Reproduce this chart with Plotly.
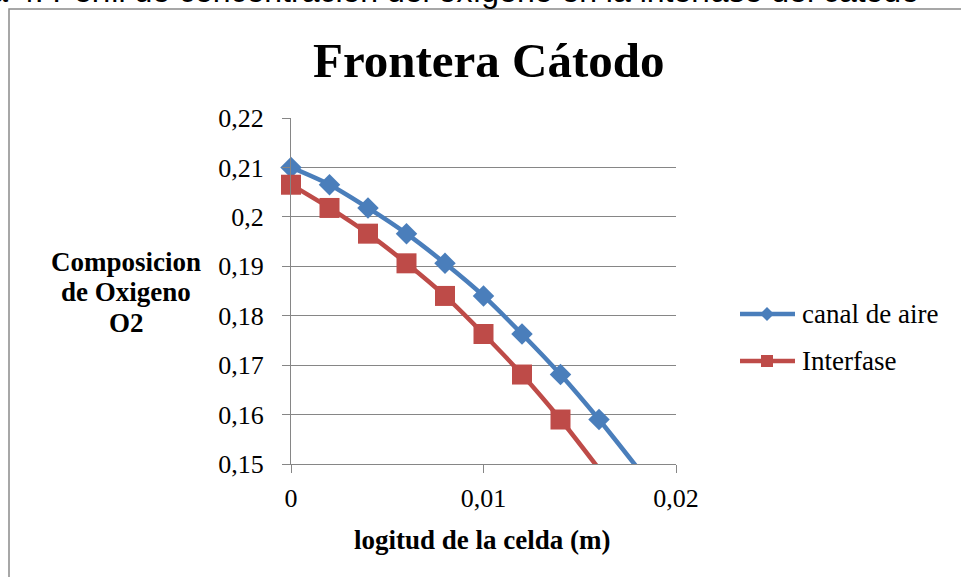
import plotly.graph_objects as go

# Cell length positions (m)
longitud = [0.000, 0.002, 0.004, 0.006, 0.008, 0.010, 0.012, 0.014, 0.016, 0.018]
# O2 mole fraction in the air channel
canal_aire = [0.2100, 0.2065, 0.2018, 0.1966, 0.1906, 0.1840, 0.1763, 0.1681, 0.1590, 0.1492]
# O2 mole fraction at the cathode interface
interfase = [0.2065, 0.2018, 0.1966, 0.1906, 0.1840, 0.1763, 0.1681, 0.1590, 0.1490]

y_ticks = [0.15, 0.16, 0.17, 0.18, 0.19, 0.20, 0.21, 0.22]
y_ticktext = ["0,15", "0,16", "0,17", "0,18", "0,19", "0,2", "0,21", "0,22"]
x_ticks = [0.0, 0.01, 0.02]
x_ticktext = ["0", "0,01", "0,02"]

Y_MIN, Y_MAX = 0.15, 0.22
X_MIN, X_MAX = 0.0, 0.02

BLUE = "#4A7EBB"
RED = "#BE4B48"
GRID = "#868686"
SERIF = "Liberation Serif"

W, H = 961, 577
PL, PR, PT, PB = 291, 676, 118, 464


def fx(px):
    return (px - PL) / (PR - PL)


def fy(py):
    return (PB - py) / (PB - PT)


fig = go.Figure()


def add_series(xs, ys, color, symbol, size):
    xs = xs[:len(ys)]
    # smoothed line, clipped by the plot area
    fig.add_trace(go.Scatter(
        x=xs, y=ys, mode="lines",
        line=dict(color=color, width=4.5, shape="spline", smoothing=0.8),
        showlegend=False, hoverinfo="skip"))
    # markers only where the value lies inside the axis range
    mx = [x for x, y in zip(xs, ys) if Y_MIN <= y <= Y_MAX]
    my = [y for y in ys if Y_MIN <= y <= Y_MAX]
    fig.add_trace(go.Scatter(
        x=mx, y=my, mode="markers", cliponaxis=False,
        marker=dict(color=color, symbol=symbol, size=size, line=dict(width=0)),
        showlegend=False))


add_series(longitud, canal_aire, BLUE, "diamond", 16.5)
add_series(longitud, interfase, RED, "square", 20)

annotations = [
    dict(text="Gráfica 4. Perfil de concentración del oxígeno en la interfase del cátodo",
         x=fx(921), y=fy(-9), xanchor="right", yanchor="middle",
         font=dict(family="Liberation Sans", size=32, color="black")),
    dict(text="<b>Frontera Cátodo</b>", x=fx(489), y=fy(61),
         xanchor="center", yanchor="middle",
         font=dict(family=SERIF, size=49, color="black")),
    dict(text="<b>logitud de la celda (m)</b>", x=fx(482), y=fy(540),
         xanchor="center", yanchor="middle",
         font=dict(family=SERIF, size=27, color="black")),
]
for txt, yy in [("Composicion", 262), ("de Oxigeno", 292), ("O2", 323)]:
    annotations.append(dict(text=f"<b>{txt}</b>", x=fx(126), y=fy(yy),
                            xanchor="center", yanchor="middle",
                            font=dict(family=SERIF, size=27, color="black")))

# legend text
for txt, yy in [("canal de aire", 314), ("Interfase", 361)]:
    annotations.append(dict(text=txt, x=fx(800), y=fy(yy),
                            xanchor="left", yanchor="middle",
                            font=dict(family=SERIF, size=27, color="black")))
for a in annotations:
    a.update(xref="paper", yref="paper", showarrow=False)

shapes = [
    # chart frame
    dict(type="rect", xref="paper", yref="paper",
         x0=fx(9), x1=fx(1200), y0=fy(800), y1=fy(9),
         line=dict(color="#8a8a8a", width=1.5), layer="below"),
    # legend swatches
    dict(type="line", xref="paper", yref="paper", x0=fx(740), x1=fx(795),
         y0=fy(314), y1=fy(314), line=dict(color=BLUE, width=4.5)),
    dict(type="path", xref="paper", yref="paper", xsizemode="pixel", ysizemode="pixel",
         xanchor=fx(767), yanchor=fy(314), path="M-7,0L0,7L7,0L0,-7Z",
         fillcolor=BLUE, line=dict(width=0)),
    dict(type="line", xref="paper", yref="paper", x0=fx(740), x1=fx(795),
         y0=fy(361), y1=fy(361), line=dict(color=RED, width=4.5)),
    dict(type="rect", xref="paper", yref="paper", xsizemode="pixel", ysizemode="pixel",
         xanchor=fx(767), yanchor=fy(361), x0=-6, x1=6, y0=-6, y1=6,
         fillcolor=RED, line=dict(width=0)),
]

fig.update_layout(
    width=W, height=H,
    margin=dict(l=PL, r=W - PR, t=PT, b=H - PB, pad=0),
    paper_bgcolor="white", plot_bgcolor="white",
    showlegend=False,
    annotations=annotations,
    shapes=shapes,
    xaxis=dict(range=[X_MIN, X_MAX], tickvals=x_ticks, ticktext=x_ticktext,
               showgrid=False, zeroline=False, showline=True,
               linecolor=GRID, linewidth=1, ticks="outside", ticklen=8,
               tickcolor=GRID, tickwidth=1, ticklabelstandoff=3,
               tickfont=dict(family=SERIF, size=26, color="black")),
    yaxis=dict(range=[Y_MIN, Y_MAX], tickvals=y_ticks, ticktext=y_ticktext,
               showgrid=True, gridcolor=GRID, gridwidth=1, zeroline=False,
               showline=True, linecolor=GRID, linewidth=1, ticks="outside",
               ticklen=8, tickcolor=GRID, tickwidth=1, ticklabelstandoff=13,
               tickfont=dict(family=SERIF, size=26, color="black")),
)

fig.write_html("out.html")
